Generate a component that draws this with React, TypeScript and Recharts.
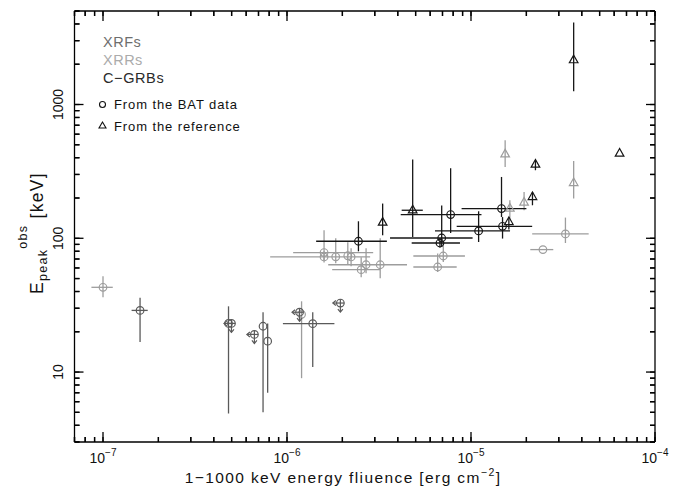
import React from 'react';
import { ScatterChart, Scatter, XAxis, YAxis, ErrorBar } from 'recharts';

// ---- Sample groups (fluence in erg cm^-2, observed Epeak in keV) ----
// Ranges are [low, high] bounds of the error bar; null = no bar.

// XRFs measured from the BAT data
const xrfBatFluence = [1.59e-7, 4.81e-7, 7.41e-7, 7.85e-7, 1.38e-6];
const xrfBatFluenceRange = [[1.43e-7, 1.75e-7], null, null, null, [9.5e-7, 1.81e-6]];
const xrfBatEpeak = [28.9, 23.1, 22.0, 17.0, 23.0];
const xrfBatEpeakRange = [[16.8, 36.0], [4.9, 31.0], [5.0, 28.0], [7.0, 23.1], [10.9, 28.0]];

// XRF upper limits on Epeak and fluence
const xrfLimitFluence = [4.99e-7, 6.65e-7, 1.17e-6, 1.95e-6];
const xrfLimitEpeak = [23.1, 19.1, 28.0, 32.8];

// XRRs measured from the BAT data
const xrrBatFluence = [1.0e-7, 1.2e-6, 1.59e-6, 1.59e-6, 1.84e-6, 2.14e-6, 2.23e-6, 2.69e-6, 2.53e-6, 3.21e-6, 7.07e-6, 6.59e-6, 3.26e-5, 2.46e-5];
const xrrBatFluenceRange = [[8.65e-8, 1.13e-7], null, [1.08e-6, 2.94e-6], [8.1e-7, 2.83e-6], null, null, null, null, [1.76e-6, 3.21e-6], [1.675e-6, 4.49e-6], [4.86e-6, 9.27e-6], [4.86e-6, 8.36e-6], [2.15e-5, 4.36e-5], [2.1e-5, 2.8e-5]];
const xrrBatEpeak = [43.0, 27.0, 78.2, 72.5, 72.7, 74.0, 72.5, 63.4, 58.3, 63.4, 73.7, 61.0, 107.7, 82.3];
const xrrBatEpeakRange = [[36.2, 52.0], [9.0, 33.8], [68.5, 114.8], [66, 80], [65, 100], [63.9, 93.3], [61.7, 84.2], [54.7, 84.2], [51.1, 72.1], [50.2, 100], [66.5, 88.6], [56.0, 76.8], [92.2, 142.8], null];

// C-GRBs measured from the BAT data
const grbBatFluence = [2.445e-6, 7.75e-6, 6.93e-6, 6.78e-6, 1.1e-5, 1.465e-5, 1.484e-5];
const grbBatFluenceRange = [[1.44e-6, 3.49e-6], [4.15e-6, 1.14e-5], [3.63e-6, 1.02e-5], [4.76e-6, 8.71e-6], [6.37e-6, 1.63e-5], [8.89e-6, 2.0e-5], [8.36e-6, 2.15e-5]];
const grbBatEpeak = [95.0, 150.4, 100.5, 92.2, 113.4, 166.8, 122.9];
const grbBatEpeakRange = [[79.9, 134], [109.5, 333.9], [86.1, 175.6], [85.5, 100.5], [93.8, 159.2], [144.3, 287.3], [99.5, 144]];

// XRRs taken from the literature
const xrrRefFluence = [1.533e-5, 1.626e-5, 1.943e-5, 3.614e-5];
const xrrRefEpeak = [424.9, 166.8, 184.9, 259.1];
const xrrRefEpeakRange = [[341.5, 540.8], [140, 192.4], [162, 221.9], [198.1, 378.6]];

// C-GRBs taken from the literature
const grbRefFluence = [3.31e-6, 4.82e-6, 1.606e-5, 2.158e-5, 2.24e-5, 3.614e-5, 6.42e-5];
const grbRefFluenceRange = [null, [4.2e-6, 5.47e-6], null, null, null, null, null];
const grbRefEpeak = [131.0, 162.0, 132.4, 203.7, 355.8, 2145, 430];
const grbRefEpeakRange = [[105.3, 181.8], [102.3, 387.8], [116.2, 144.3], [176.5, 221.9], [322.6, 383.2], [1258, 4105], null];

// ---- Axes ----
const xDomain = [7e-8, 1e-4];
const yDomain = [3, 5000];
const xMajor = [1e-7, 1e-6, 1e-5, 1e-4];
const xMajorExp = ['\u22127', '\u22126', '\u22125', '\u22124'];
const yMajor = [10, 100, 1000];
const yMajorLabels = ['10', '100', '1000'];
const minorSteps = [2, 3, 4, 5, 6, 7, 8, 9];

const decadeTicks = (decades: number[], lo: number, hi: number) => {
  const out: number[] = [];
  decades.forEach((d) => {
    out.push(d);
    minorSteps.forEach((m) => out.push(d * m));
  });
  return out.filter((v) => v >= lo * 0.999 && v <= hi * 1.001);
};
const xTicks = decadeTicks([1e-8, 1e-7, 1e-6, 1e-5, 1e-4], xDomain[0], xDomain[1]);
const yTicks = decadeTicks([1, 10, 100, 1000], yDomain[0], yDomain[1]);

const COL_XRF = '#5a5a5a';
const COL_XRR = '#9d9d9d';
const COL_GRB = '#161616';
const FONT = '"Liberation Sans", Arial, sans-serif';

type Range = number[] | null;
const rows = (fl: number[], ep: number[], flR?: Range[], epR?: Range[]) =>
  fl.map((f, i) => {
    const rx = flR ? flR[i] : null;
    const ry = epR ? epR[i] : null;
    const e = ep[i];
    return {
      f,
      e,
      ex: rx ? [f - rx[0], rx[1] - f] : [0, 0],
      ey: ry ? [e - ry[0], ry[1] - e] : [0, 0],
    };
  });

const xrfBat = rows(xrfBatFluence, xrfBatEpeak, xrfBatFluenceRange, xrfBatEpeakRange);
const xrfLimit = rows(xrfLimitFluence, xrfLimitEpeak);
const xrrBat = rows(xrrBatFluence, xrrBatEpeak, xrrBatFluenceRange, xrrBatEpeakRange);
const grbBat = rows(grbBatFluence, grbBatEpeak, grbBatFluenceRange, grbBatEpeakRange);
const xrrRef = rows(xrrRefFluence, xrrRefEpeak, undefined, xrrRefEpeakRange);
const grbRef = rows(grbRefFluence, grbRefEpeak, grbRefFluenceRange, grbRefEpeakRange);
// anchors the mirrored top/right axes
const frameAnchor = [{ f: 1e-6, e: 100 }];

const majorIndex = (v: number, majors: number[]) =>
  majors.findIndex((m) => Math.abs(Math.log10(v) - Math.log10(m)) < 1e-6);

// Ticks point into the frame: tickSize is negative, and the renderers
// below draw every mark (decades longer) plus the decade labels.
const MINOR = 5;
const MAJOR = 10;
const tickStroke = { stroke: '#000', strokeWidth: 1.3 };

const BottomTick = (p: any) => {
  const idx = majorIndex(p.payload.value, xMajor);
  const ay = p.y + MINOR;
  const len = idx >= 0 ? MAJOR : MINOR;
  return (
    <g>
      <line x1={p.x} x2={p.x} y1={ay} y2={ay - len} {...tickStroke} />
      {idx >= 0 && (
        <text x={p.x} y={ay + 21} textAnchor="middle" fontFamily={FONT} fontSize={14} fill="#111">
          10
          <tspan dy={-7} fontSize={10}>{xMajorExp[idx]}</tspan>
        </text>
      )}
    </g>
  );
};
const TopTick = (p: any) => {
  const idx = majorIndex(p.payload.value, xMajor);
  const ay = p.y - MINOR;
  const len = idx >= 0 ? MAJOR : MINOR;
  return <line x1={p.x} x2={p.x} y1={ay} y2={ay + len} {...tickStroke} />;
};
const LeftTick = (p: any) => {
  const idx = majorIndex(p.payload.value, yMajor);
  const ax = p.x - MINOR;
  const tx = ax - 11;
  const len = idx >= 0 ? MAJOR - 1 : MINOR;
  return (
    <g>
      <line x1={ax} x2={ax + len} y1={p.y} y2={p.y} {...tickStroke} />
      {idx >= 0 && (
        <text x={tx} y={p.y} transform={`rotate(-90 ${tx} ${p.y})`} textAnchor="middle" fontFamily={FONT} fontSize={14} fill="#111">
          {yMajorLabels[idx]}
        </text>
      )}
    </g>
  );
};
const RightTick = (p: any) => {
  const idx = majorIndex(p.payload.value, yMajor);
  const ax = p.x + MINOR;
  const len = idx >= 0 ? MAJOR - 1 : MINOR;
  return <line x1={ax} x2={ax - len} y1={p.y} y2={p.y} {...tickStroke} />;
};

// ---- Marker shapes ----
const circleShape = (color: string) => (p: any) => (
  <circle cx={p.cx} cy={p.cy} r={3.8} fill="none" stroke={color} strokeWidth={1.2} />
);
const triangleShape = (color: string) => (p: any) => (
  <polygon
    points={`${p.cx},${p.cy - 5} ${p.cx - 4.3},${p.cy + 2.6} ${p.cx + 4.3},${p.cy + 2.6}`}
    fill="none"
    stroke={color}
    strokeWidth={1.2}
  />
);
const limitShape = (color: string) => (p: any) => {
  const { cx, cy } = p;
  return (
    <g fill="none" stroke={color} strokeWidth={1.2}>
      <circle cx={cx} cy={cy} r={3.8} />
      <line x1={cx + 3.8} x2={cx - 7.5} y1={cy} y2={cy} />
      <polyline points={`${cx - 4.5},${cy - 2.5} ${cx - 7.5},${cy} ${cx - 4.5},${cy + 2.5}`} />
      <line x1={cx} x2={cx} y1={cy - 3.8} y2={cy + 9} />
      <polyline points={`${cx - 2.5},${cy + 6} ${cx},${cy + 9} ${cx + 2.5},${cy + 6}`} />
    </g>
  );
};
const noShape = () => <g />;

const series = [
  { key: 'xrrBat', data: xrrBat, color: COL_XRR, shape: circleShape(COL_XRR) },
  { key: 'xrrRef', data: xrrRef, color: COL_XRR, shape: triangleShape(COL_XRR) },
  { key: 'xrfBat', data: xrfBat, color: COL_XRF, shape: circleShape(COL_XRF) },
  { key: 'xrfLimit', data: xrfLimit, color: COL_XRF, shape: limitShape(COL_XRF) },
  { key: 'grbBat', data: grbBat, color: COL_GRB, shape: circleShape(COL_GRB) },
  { key: 'grbRef', data: grbRef, color: COL_GRB, shape: triangleShape(COL_GRB) },
];

const axisLine = { stroke: '#000', strokeWidth: 1.3 };
const common = {
  type: 'number' as const,
  scale: 'log' as const,
  allowDataOverflow: true,
  interval: 0 as const,
  tickLine: tickStroke,
  tickSize: -MINOR,
  tickMargin: 0,
  axisLine,
};

export default function App() {
  return (
    <div style={{ position: 'absolute', left: 0, top: 0, width: 689, height: 489, background: '#fff' }}>
      <ScatterChart width={689} height={489} margin={{ top: 10, right: 33, bottom: 7, left: 14.5 }}>
        <XAxis {...common} xAxisId="b" dataKey="f" domain={xDomain} ticks={xTicks} tick={<BottomTick />} height={40} />
        <XAxis {...common} xAxisId="t" orientation="top" dataKey="f" domain={xDomain} ticks={xTicks} tick={<TopTick />} height={1} />
        <YAxis {...common} yAxisId="l" dataKey="e" domain={yDomain} ticks={yTicks} tick={<LeftTick />} width={60} />
        <YAxis {...common} yAxisId="r" orientation="right" dataKey="e" domain={yDomain} ticks={yTicks} tick={<RightTick />} width={1} />
        <Scatter xAxisId="t" yAxisId="r" data={frameAnchor} shape={noShape} isAnimationActive={false} />
        {series.map((s) => (
          <Scatter
            key={s.key}
            xAxisId="b"
            yAxisId="l"
            data={s.data}
            shape={s.shape}
            isAnimationActive={false}
          >
            <ErrorBar dataKey="ex" direction="x" width={0} stroke={s.color} strokeWidth={1.3} />
            <ErrorBar dataKey="ey" direction="y" width={0} stroke={s.color} strokeWidth={1.3} />
          </Scatter>
        ))}
      </ScatterChart>

      {/* titles and key */}
      <svg width={689} height={489} style={{ position: 'absolute', left: 0, top: 0, pointerEvents: 'none' }}>
        <text x={343} y={483} textAnchor="middle" fontFamily={FONT} fontSize={15.5} letterSpacing={1.4} fill="#111">
          1{'\u2212'}1000 keV energy fliuence [erg cm
          <tspan dy={-7} fontSize={10.5}>{'\u2212'}2</tspan>
          <tspan dy={7}>]</tspan>
        </text>
        <g transform="rotate(-90 43 233)">
          <text x={43} y={233} textAnchor="middle" fontFamily={FONT} fontSize={17.5} letterSpacing={1.3} fill="#111">
            E
            <tspan dy={4} fontSize={12.5}>peak</tspan>
            <tspan dy={-20} fontSize={12.5}>obs</tspan>
            <tspan dy={16}> [keV]</tspan>
          </text>
        </g>

        <text x={103} y={47} fontFamily={FONT} fontSize={14.5} letterSpacing={0.5} fill="#6e6e6e">XRFs</text>
        <text x={103} y={65} fontFamily={FONT} fontSize={14.5} letterSpacing={0.5} fill="#ababab">XRRs</text>
        <text x={103} y={83} fontFamily={FONT} fontSize={14.5} letterSpacing={0.6} fill="#2a2a2a">C{'\u2212'}GRBs</text>

        <circle cx={102.5} cy={104.5} r={3} fill="none" stroke="#111" strokeWidth={1.1} />
        <text x={114} y={109} fontFamily={FONT} fontSize={13} letterSpacing={0.9} fill="#111">From the BAT data</text>
        <polygon points="102.5,122 99,128 106,128" fill="none" stroke="#111" strokeWidth={1.1} />
        <text x={114} y={130.5} fontFamily={FONT} fontSize={13} letterSpacing={0.9} fill="#111">From the reference</text>
      </svg>
    </div>
  );
}
